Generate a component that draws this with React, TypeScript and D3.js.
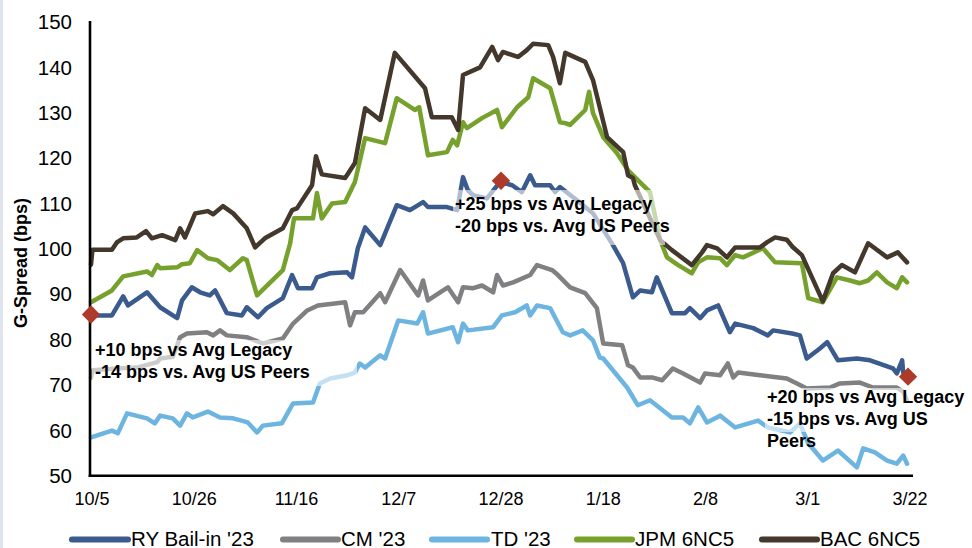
import React from "react";
import * as d3 from "d3";

// x values are days since 10/5
const tickDays = [0, 21, 42, 63, 84, 105, 126, 147, 168];
const tickLabels = ["10/5", "10/26", "11/16", "12/7", "12/28", "1/18", "2/8", "3/1", "3/22"];
const yTicks = [50, 60, 70, 80, 90, 100, 110, 120, 130, 140, 150];

const seriesNames = ["RY Bail-in '23", "CM '23", "TD '23", "JPM 6NC5", "BAC 6NC5"];
const seriesColors = ["#3B5A8D", "#808083", "#6DB5E0", "#76A12D", "#44372B"];

const RY: [number, number][] = [
  [0, 85.3], [4.3, 85.3], [6.6, 89.5], [7.6, 87.5], [11.5, 90.4], [14.2, 87.1], [17.7, 84.7], [18.7, 88.6],
  [20.7, 91.5], [22.4, 90.4], [24.4, 89.7], [25.5, 90.8], [27.9, 85.8], [31.0, 85.3], [32.0, 87.1], [34.3, 84.9],
  [36.1, 86.9], [39.4, 89.1], [41.3, 94.2], [42.5, 91.3], [45.4, 91.3], [46.4, 93.7], [49.1, 94.6], [52.6, 94.8],
  [53.6, 93.7], [54.8, 100.1], [56.3, 104.7], [59.4, 100.8], [62.8, 109.6], [65.5, 108.5], [68.2, 110.3],
  [69.2, 109.2], [73.1, 109.2], [75.2, 108.5], [76.4, 115.8], [77.4, 112.9], [78.5, 111.8], [81.3, 111.1],
  [84.0, 114.7], [86.5, 114], [88.5, 112.5], [90.2, 116.2], [91.2, 114], [94.3, 114], [95.3, 112.5], [96.3, 113.6],
  [99.8, 110.7], [103.1, 107.8], [107.2, 100.8], [109.3, 96.8], [111.3, 89.3], [112.8, 90.8], [115.2, 90.4],
  [116.2, 93.7], [119.3, 85.8], [122.0, 85.8], [123.0, 86.9], [125.1, 84.7], [126.5, 86.4], [128.8, 87.5],
  [131.2, 81.6], [132.3, 83.5], [136.0, 82.5], [139.0, 80.9], [140.1, 82], [144.0, 81.3], [145.6, 80.9],
  [147.0, 75.8], [149.7, 78], [151.2, 79.4], [153.4, 75.4], [157.3, 75.8], [160.0, 75.4], [164.7, 73.6],
  [165.5, 72.5], [166.6, 75.4], [166.8, 72.7], [167.6, 72],
];

const CM: [number, number][] = [
  [0, 71.6], [0.4, 73.2], [5.3, 73.6], [9.4, 73.8], [13.6, 75], [14.2, 75.8], [16.8, 76.2], [18.3, 80.5],
  [19.7, 81.3], [23.8, 81.6], [25.1, 80.9], [26.5, 82], [27.9, 80.9], [32.0, 80.5], [35.3, 79.1], [39.4, 80.2],
  [41.5, 83.5], [43.0, 85], [44.4, 86.4], [46.6, 87.5], [52.2, 88.2], [53.2, 83.1], [54.2, 86], [55.9, 86],
  [59.4, 90.2], [60.4, 88.2], [63.5, 95.3], [67.2, 89.7], [68.2, 93], [69.2, 88.6], [71.7, 90.4], [73.3, 91.5],
  [75.4, 88.2], [76.4, 91.5], [78.5, 91.3], [80.3, 91.9], [82.6, 90.4], [83.4, 94.2], [84.6, 91.9], [86.7, 92.6],
  [90.2, 94.2], [91.6, 96.4], [94.7, 95.3], [95.9, 94.2], [98.4, 91.5], [101.5, 90.2], [103.9, 86.9],
  [105.2, 79.1], [109.1, 78.7], [110.3, 74.3], [111.3, 73.8], [112.8, 71.6], [115.4, 71.6], [117.3, 71],
  [119.5, 73.6], [121.6, 72.5], [125.1, 70.5], [126.1, 72.5], [129.2, 72.1], [130.8, 74.7], [131.9, 71.6],
  [132.9, 72.7], [137.4, 72.1], [142.9, 71.4], [145.0, 70.3], [147.0, 69.2], [151.8, 69.4], [153.8, 70.3],
  [157.9, 70.5], [160.6, 69.4], [165.5, 69.4], [166.8, 68.5], [167.6, 66.5],
];

const TD: [number, number][] = [
  [0, 58.4], [4.3, 59.9], [5.5, 59.3], [7.4, 63.7], [11.5, 62.6], [13.1, 61.5], [14.2, 63.2], [16.8, 62.6],
  [18.3, 61], [19.7, 63.7], [20.9, 62.8], [24.0, 64.1], [26.5, 62.8], [29.2, 62.6], [32.2, 61.7], [34.1, 59.5],
  [35.3, 61], [39.2, 61.5], [41.5, 65.9], [45.6, 66.1], [47.0, 70.3], [49.1, 71.4], [52.6, 72.1], [54.2, 72.7],
  [55.2, 74.7], [56.3, 73.8], [59.4, 76.5], [60.4, 75.8], [63.1, 84.2], [67.0, 83.5], [68.2, 86], [69.2, 81.3],
  [74.3, 82.7], [75.4, 79.4], [76.4, 83.5], [77.4, 82], [82.6, 82.7], [84.4, 85.3], [87.1, 86], [89.5, 87.5],
  [90.2, 85.3], [91.6, 87.5], [94.3, 86.9], [96.9, 81.6], [98.4, 80.9], [101.0, 82], [103.1, 79.8], [104.5, 76],
  [105.2, 75.8], [110.1, 69.4], [112.3, 65.5], [114.8, 66.6], [119.3, 62.8], [121.6, 62.8], [123.0, 61.5],
  [124.7, 65], [126.5, 61.7], [129.2, 63.2], [132.3, 60.6], [137.0, 62.1], [139.0, 60.6], [143.6, 59.5],
  [145.6, 61.5], [147.3, 57.1], [150.3, 53.3], [153.4, 55.5], [157.3, 51.8], [158.6, 56], [161.0, 55.1],
  [163.5, 53.3], [165.5, 52.6], [166.8, 54.4], [167.6, 52.6],
];

const JPM: [number, number][] = [
  [0, 88.2], [4.3, 90.8], [6.6, 93.9], [11.5, 95], [12.5, 94.2], [13.6, 96.4], [14.2, 95.7], [17.7, 95.9],
  [18.7, 96.6], [20.3, 96.8], [21.8, 99.7], [24.0, 97.9], [25.9, 97.5], [28.5, 95.3], [31.2, 97.9], [32.0, 97.5],
  [34.1, 89.7], [39.4, 95.3], [40.9, 101.2], [41.3, 104], [41.7, 106.7], [45.6, 106.7], [46.4, 112.3],
  [47.4, 106.7], [49.5, 110], [52.2, 110.3], [54.2, 114.7], [56.3, 124.4], [60.4, 123.3], [62.8, 133.2],
  [66.5, 130.6], [67.4, 131.2], [69.2, 120.6], [73.1, 121.3], [74.3, 124], [75.2, 122.8], [76.4, 127.9],
  [77.2, 126.6], [80.3, 128.8], [83.4, 130.6], [84.4, 126.8], [87.5, 131.2], [89.8, 133.4], [90.8, 137.6],
  [94.3, 135.4], [96.3, 127.9], [97.4, 127.7], [98.4, 127.3], [101.5, 130.6], [102.3, 134.6], [103.1, 129.9],
  [105.2, 124.6], [108.0, 121.1], [110.3, 117.3], [114.8, 112.5], [116.9, 101.9], [118.3, 98.1], [120.6, 96.4],
  [123.4, 94.6], [124.7, 97], [126.5, 98.1], [129.2, 97.9], [130.6, 96.4], [132.3, 98.6], [133.9, 98.1],
  [138.0, 100.1], [140.5, 97], [146.0, 96.8], [147.3, 89.1], [150.3, 88.2], [153.2, 93.7], [155.9, 93],
  [157.9, 92.4], [159.6, 93], [161.4, 94.8], [163.5, 92.6], [165.5, 91.3], [166.6, 93.7], [167.6, 92.6],
];

const BAC: [number, number][] = [
  [0, 96.5], [0.3, 99.8], [4.3, 99.8], [5.3, 101.4], [6.6, 102.3], [9.4, 102.5], [11.3, 103.9], [12.5, 102.3],
  [14.6, 103], [17.3, 101.9], [18.3, 104.5], [19.3, 102.5], [21.4, 107.8], [24.0, 108.3], [25.1, 107.6],
  [27.1, 109.4], [29.2, 107.8], [32.0, 104.5], [33.7, 100.3], [35.7, 102.3], [39.4, 104.5], [41.3, 108.5],
  [42.3, 108.9], [45.4, 114], [46.2, 120.4], [47.4, 116.4], [52.2, 115.6], [54.2, 118.9], [56.3, 131],
  [59.4, 128.4], [62.4, 143.2], [68.6, 135.4], [70.0, 129], [74.1, 129], [75.4, 126.2], [76.4, 138.3],
  [79.9, 140], [82.4, 144.5], [83.6, 141.6], [84.6, 143.4], [87.7, 142.3], [89.5, 143.8], [90.8, 145.2],
  [93.9, 144.9], [94.9, 142.3], [96.3, 136.5], [97.4, 143.2], [101.5, 141.2], [103.1, 137.2], [106.0, 124.6],
  [109.3, 121.3], [110.3, 116.2], [111.3, 115.6], [111.7, 114], [116.9, 101.9], [119.3, 99.7], [123.4, 96.4],
  [125.5, 99.2], [126.5, 100.8], [128.6, 100.1], [130.6, 98.1], [132.3, 100.3], [137.4, 100.3], [138.8, 101.4],
  [140.5, 102.5], [142.9, 102], [144.0, 100.5], [146.0, 98.6], [150.3, 88.4], [152.4, 94.6], [154.2, 96.4],
  [156.9, 94.8], [159.6, 101.2], [163.5, 98.1], [165.7, 99.2], [167.6, 97],
];

const seriesData = [RY, CM, TD, JPM, BAC];

const markers: [number, number][] = [[0, 85.5], [84.2, 115], [167.8, 71.8]];

const annotations: string[][] = [
  ["+10 bps vs Avg Legacy", "-14 bps vs. Avg US Peers"],
  ["+25 bps vs Avg Legacy", "-20 bps vs. Avg US Peers"],
  ["+20 bps vs Avg Legacy", "-15 bps vs. Avg US", "Peers"],
];

const FONT = "'Liberation Sans', Arial, sans-serif";

export default function App() {
  const W = 972;
  const H = 548;
  const x = d3.scaleLinear().domain([0, 168]).range([91, 909]);
  const y = d3.scaleLinear().domain([50, 150]).range([475.5, 22]);
  const line = d3
    .line<[number, number]>()
    .x((d) => x(d[0]))
    .y((d) => y(d[1]));

  const annoPos = [
    { tx: 95, ty: 356, box: [92, 340, 357, 386] },
    { tx: 455, ty: 210, box: [453, 190, 665, 245] },
    { tx: 767, ty: 403, box: [765, 388, 972, 432] },
  ];

  const legendItems = [
    { x1: 72, x2: 128, tx: 131 },
    { x1: 283, x2: 338, tx: 341 },
    { x1: 432, x2: 487, tx: 491 },
    { x1: 577, x2: 632, tx: 635 },
    { x1: 762, x2: 817, tx: 820 },
  ];

  return (
    <svg
      width={W}
      height={H}
      style={{ position: "absolute", left: 0, top: 0, background: "#fff" }}
      fontFamily={FONT}
    >
      <rect x={0} y={0} width={W} height={H} fill="#fff" />
      <rect x={0} y={0} width={3} height={H} fill="#dfe4ee" />

      {/* Y tick labels */}
      {yTicks.map((t) => (
        <text key={t} x={72} y={y(t)} dy="0.36em" textAnchor="end" fontSize={20.5} fill="#000">
          {t}
        </text>
      ))}
      {/* Y title */}
      <text
        transform={`translate(27,${263}) rotate(-90)`}
        textAnchor="middle"
        fontSize={18}
        fontWeight="bold"
        fill="#000"
      >
        G-Spread (bps)
      </text>

      {/* X tick labels */}
      {tickDays.map((d, i) => (
        <text key={d} x={x(d) + 1} y={505} textAnchor="middle" fontSize={18} fill="#000">
          {tickLabels[i]}
        </text>
      ))}

      {/* Series lines */}
      {seriesData.map((s, i) => (
        <path
          key={i}
          d={line(s) || ""}
          fill="none"
          stroke={seriesColors[i]}
          strokeWidth={4.5}
          strokeLinejoin="round"
          strokeLinecap="round"
        />
      ))}

      {/* Axes */}
      <line x1={90} y1={21} x2={90} y2={476.8} stroke="#000" strokeWidth={2.6} />
      <line x1={88.7} y1={475.7} x2={913} y2={475.7} stroke="#000" strokeWidth={2.6} />

      {/* Annotation boxes */}
      {annoPos.map((a, i) => (
        <rect
          key={i}
          x={a.box[0]}
          y={a.box[1]}
          width={a.box[2] - a.box[0]}
          height={a.box[3] - a.box[1]}
          fill="#fff"
          fillOpacity={0.6}
        />
      ))}

      {/* Markers */}
      {markers.map((m, i) => (
        <rect
          key={i}
          x={-6.5}
          y={-6.5}
          width={13}
          height={13}
          fill="#AD3A2A"
          transform={`translate(${x(m[0])},${y(m[1])}) rotate(45)`}
        />
      ))}

      {/* Annotation text */}
      {annotations.map((lines, i) => (
        <text key={i} fontSize={18} fontWeight="bold" fill="#000">
          {lines.map((l, j) => (
            <tspan key={j} x={annoPos[i].tx} y={annoPos[i].ty + j * 22}>
              {l}
            </tspan>
          ))}
        </text>
      ))}

      {/* Legend */}
      {legendItems.map((l, i) => (
        <g key={i}>
          <line
            x1={l.x1}
            x2={l.x2}
            y1={539.5}
            y2={539.5}
            stroke={seriesColors[i]}
            strokeWidth={6}
            strokeLinecap="round"
          />
          <text x={l.tx} y={545.5} fontSize={20.5} fill="#000">
            {seriesNames[i]}
          </text>
        </g>
      ))}
    </svg>
  );
}
